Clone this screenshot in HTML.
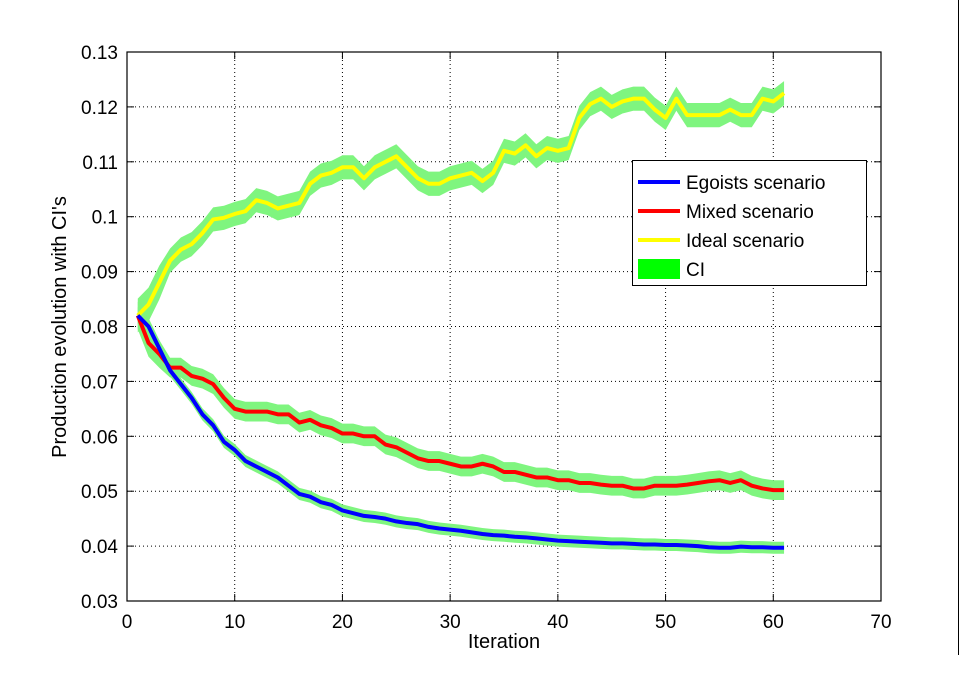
<!DOCTYPE html>
<html><head><meta charset="utf-8"><style>
html,body{margin:0;padding:0;background:#fff;}
svg{display:block;font-family:"Liberation Sans",Arial,sans-serif;}
</style></head><body>
<svg id="s" width="978" height="675" xmlns="http://www.w3.org/2000/svg">
<rect width="978" height="675" fill="#fff"/>
<line x1="958.5" y1="0" x2="958.5" y2="655" stroke="#000" stroke-width="1"/>
<g id="grid"></g>
<g id="data"></g>
<rect x="127" y="52" width="754" height="549" fill="none" stroke="#000" stroke-width="1.2"/>
<g id="ticks" font-size="19" fill="#000"></g>
<text x="504" y="648" font-size="20" text-anchor="middle">Iteration</text>
<text transform="translate(66,327) rotate(-90)" font-size="20" text-anchor="middle">Production evolution with CI's</text>
<g>
<rect x="632.5" y="160.5" width="234" height="125" fill="#fff" stroke="#000"/>
<line x1="638" y1="182" x2="680" y2="182" stroke="#0000ff" stroke-width="4"/>
<text x="686" y="189" font-size="19">Egoists scenario</text>
<line x1="638" y1="211" x2="680" y2="211" stroke="#ff0000" stroke-width="4"/>
<text x="686" y="218" font-size="19">Mixed scenario</text>
<line x1="638" y1="240" x2="680" y2="240" stroke="#ffff00" stroke-width="4"/>
<text x="686" y="247" font-size="19">Ideal scenario</text>
<rect x="638" y="259" width="42" height="20" fill="#00ff00"/>
<text x="686" y="276" font-size="19">CI</text>
</g>
</svg>
<script>
var NS="http://www.w3.org/2000/svg";
function X(v){return 127+v*754/70;}
function Y(v){return 52+(0.13-v)*5490;}
function el(t,a,p){var e=document.createElementNS(NS,t);for(var k in a)e.setAttribute(k,a[k]);document.getElementById(p).appendChild(e);return e;}
for(var i=0;i<=7;i++){var x=X(i*10);
 if(i>0&&i<7)el("line",{x1:x,y1:52,x2:x,y2:601,stroke:"#000","stroke-width":1,"stroke-dasharray":"1,3"},"grid");
 el("line",{x1:x,y1:601,x2:x,y2:594,stroke:"#000"},"grid");el("line",{x1:x,y1:52,x2:x,y2:59,stroke:"#000"},"grid");
 var t=el("text",{x:x,y:628,"text-anchor":"middle"},"ticks");t.textContent=i*10;}
for(var j=0;j<=10;j++){var v=0.03+j*0.01,y=Y(v);
 if(j>0&&j<10)el("line",{x1:127,y1:y,x2:881,y2:y,stroke:"#000","stroke-width":1,"stroke-dasharray":"1,3"},"grid");
 el("line",{x1:127,y1:y,x2:134,y2:y,stroke:"#000"},"grid");el("line",{x1:881,y1:y,x2:874,y2:y,stroke:"#000"},"grid");
 var t=el("text",{x:118,y:y+7,"text-anchor":"end"},"ticks");t.textContent=(j==7?"0.1":v.toFixed(2));}
var yel=[0.082,0.084,0.088,0.092,0.094,0.095,0.097,0.0995,0.0998,0.1005,0.101,0.103,0.1025,0.1015,0.102,0.1025,0.106,0.1075,0.108,0.109,0.109,0.107,0.109,0.110,0.111,0.109,0.107,0.106,0.106,0.107,0.1075,0.108,0.1065,0.108,0.112,0.1115,0.113,0.111,0.1125,0.112,0.1125,0.118,0.1205,0.1215,0.12,0.121,0.1215,0.1215,0.1195,0.118,0.1215,0.1185,0.1185,0.1185,0.1185,0.1195,0.1185,0.1185,0.1215,0.121,0.1225];
var red=[0.082,0.077,0.075,0.0725,0.0725,0.071,0.0705,0.0695,0.067,0.065,0.0645,0.0645,0.0645,0.064,0.064,0.0625,0.063,0.062,0.0615,0.0605,0.0605,0.060,0.060,0.0585,0.058,0.057,0.056,0.0555,0.0555,0.055,0.0545,0.0545,0.055,0.0545,0.0535,0.0535,0.053,0.0525,0.0525,0.052,0.052,0.0515,0.0515,0.0512,0.051,0.051,0.0505,0.0505,0.051,0.051,0.051,0.0512,0.0515,0.0518,0.052,0.0515,0.052,0.051,0.0505,0.0502,0.0502];
var blu=[0.082,0.080,0.076,0.072,0.0695,0.067,0.064,0.062,0.059,0.0575,0.0555,0.0545,0.0535,0.0525,0.051,0.0495,0.049,0.048,0.0475,0.0465,0.046,0.0455,0.0453,0.045,0.0445,0.0442,0.044,0.0435,0.0432,0.043,0.0428,0.0425,0.0422,0.042,0.0419,0.0417,0.0416,0.0414,0.0412,0.041,0.0409,0.0408,0.0407,0.0406,0.0405,0.0405,0.0404,0.0403,0.0403,0.0402,0.0402,0.0401,0.04,0.0398,0.0397,0.0397,0.0399,0.0398,0.0398,0.0397,0.0397];
function band(a,w){var p="";for(var i=0;i<a.length;i++)p+=(i?"L":"M")+X(i+1)+","+Y(a[i]+w*(i<3?1.4:1));for(var i=a.length-1;i>=0;i--)p+="L"+X(i+1)+","+Y(a[i]-w*(i<3?1.4:1));el("path",{d:p+"Z",fill:"#7ff57f"},"data");}
function line(a,c){var p="";for(var i=0;i<a.length;i++)p+=(i?"L":"M")+X(i+1)+","+Y(a[i]);el("path",{d:p,fill:"none",stroke:c,"stroke-width":4,"stroke-linejoin":"round"},"data");}
band(yel,0.0022);band(red,0.0018);band(blu,0.0011);
line(yel,"#ffff00");line(red,"#ff0000");line(blu,"#0000ff");
</script>
</body></html>
